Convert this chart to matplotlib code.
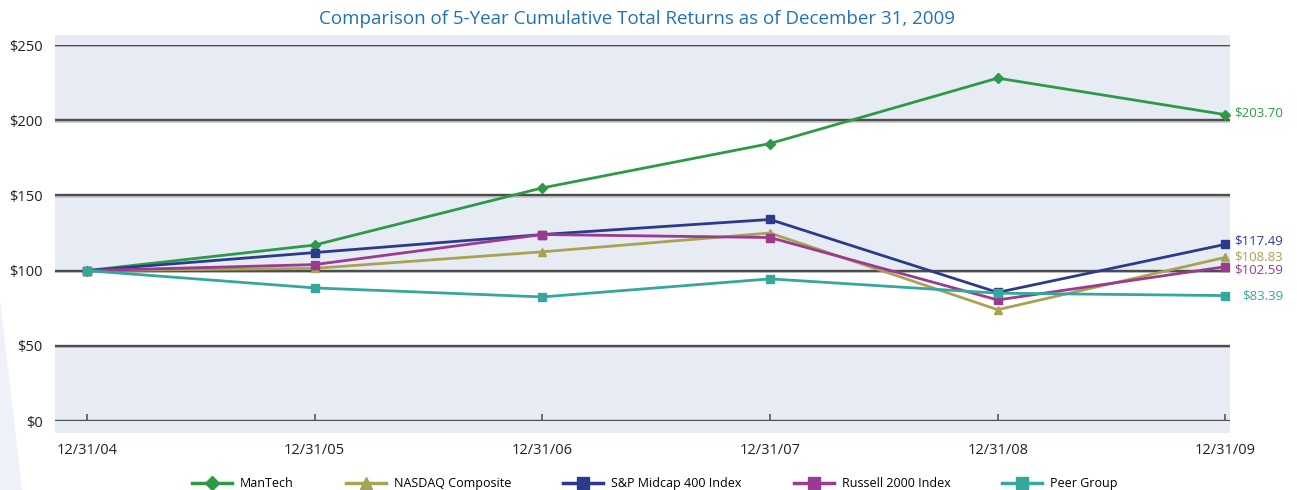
import matplotlib
matplotlib.use("Agg")
import matplotlib.pyplot as plt
from matplotlib.lines import Line2D
from matplotlib.patches import Polygon, Rectangle

plt.rcParams['font.family'] = ['Open Sans', 'DejaVu Sans']

dates = ["12/31/04", "12/31/05", "12/31/06", "12/31/07", "12/31/08", "12/31/09"]
mantech = [100, 117, 155, 184.5, 228, 203.70]
nasdaq = [100, 101.5, 112.5, 125, 74, 108.83]
sp400 = [100, 112, 124, 134, 85.5, 117.49]
russell = [100, 104, 124, 122, 80.5, 102.59]
peer = [100, 88.5, 82.5, 94.5, 85, 83.39]
y_ticks = [0, 50, 100, 150, 200, 250]
y_labels = ["$0", "$50", "$100", "$150", "$200", "$250"]
title = "Comparison of 5-Year Cumulative Total Returns as of December 31, 2009"

series = [
    ("ManTech", mantech, "#2e9a47", "D", 5),
    ("NASDAQ Composite", nasdaq, "#a8a352", "^", 6),
    ("S&P Midcap 400 Index", sp400, "#2b3a8c", "s", 6),
    ("Russell 2000 Index", russell, "#9b3b8f", "s", 6),
    ("Peer Group", peer, "#36a79c", "s", 6),
]

fig = plt.figure(figsize=(12.97, 4.90), dpi=100)
fig.patch.set_facecolor("white")
# faint page decoration at left
fig.patches.append(Polygon([[0, 0], [0.017, 0], [0.0, 0.39]], closed=True,
                           transform=fig.transFigure, facecolor="#eef1f8",
                           edgecolor="none", zorder=0))

ax = fig.add_axes([0.0424, 0.1408, 0.9059, 0.7673])
ax.set_facecolor("none")
x = list(range(len(dates)))
x0, x1 = -0.14, 5.02
ax.set_xlim(x0, x1)
ax.set_ylim(0, 250)

band = "#e7ebf4"
for lo, hi in [(-8, 50), (100, 150), (200, 257)]:
    ax.add_patch(Rectangle((x0, lo), x1 - x0, hi - lo, facecolor=band,
                           edgecolor="none", zorder=0, clip_on=False))
for yv in y_ticks:
    ax.axhline(yv - 0.9, color="#c4c4c4", lw=1.2, zorder=1)
    ax.axhline(yv, color="#4d4d4d", lw=1.7, zorder=1)

for name, vals, col, mk, ms in series:
    ax.plot(x, vals, color=col, lw=2.0, marker=mk, ms=ms, zorder=3,
            clip_on=False)

for s in ax.spines.values():
    s.set_visible(False)
ax.set_yticks(y_ticks)
ax.set_yticklabels(y_labels)
ax.set_xticks(x)
ax.set_xticklabels(dates)
ax.tick_params(axis="y", length=0, pad=9, labelsize=10.5, labelcolor="#222222")
ax.tick_params(axis="x", direction="in", length=5, width=1.2, color="#555555",
               pad=16, labelsize=10.5, labelcolor="#222222")

# end labels (vertical positions nudged apart as in the reference)
end_pos = [(mantech[-1], mantech[-1] + 1, "#2e9a47", 6),
           (sp400[-1], sp400[-1] + 2.3, "#2b3a8c", 6),
           (nasdaq[-1], nasdaq[-1] + 0.3, "#a8a352", 6),
           (russell[-1], russell[-1] - 2.2, "#9b3b8f", 6),
           (peer[-1], peer[-1], "#36a79c", 12)]
for val, ypos, col, off in end_pos:
    ax.annotate(f"${val:.2f}", xy=(5, ypos), xytext=(off, 0),
                textcoords="offset points", ha="left", va="center",
                color=col, fontsize=9.5, annotation_clip=False)

fig.text(0.491, 0.962, title, ha="center", va="center", fontsize=13.5,
         color="#1f72b8")

handles = [Line2D([0], [0], color=c, lw=2.5, marker=m, ms=ms + 2)
           for _, _, c, m, ms in series]
fig.legend(handles, [s[0] for s in series], loc="center", ncol=5,
           bbox_to_anchor=(0.505, 0.013), frameon=False, fontsize=9,
           handlelength=3.2, columnspacing=4.15, handletextpad=0.65)

fig.savefig("out.png", dpi=100)
